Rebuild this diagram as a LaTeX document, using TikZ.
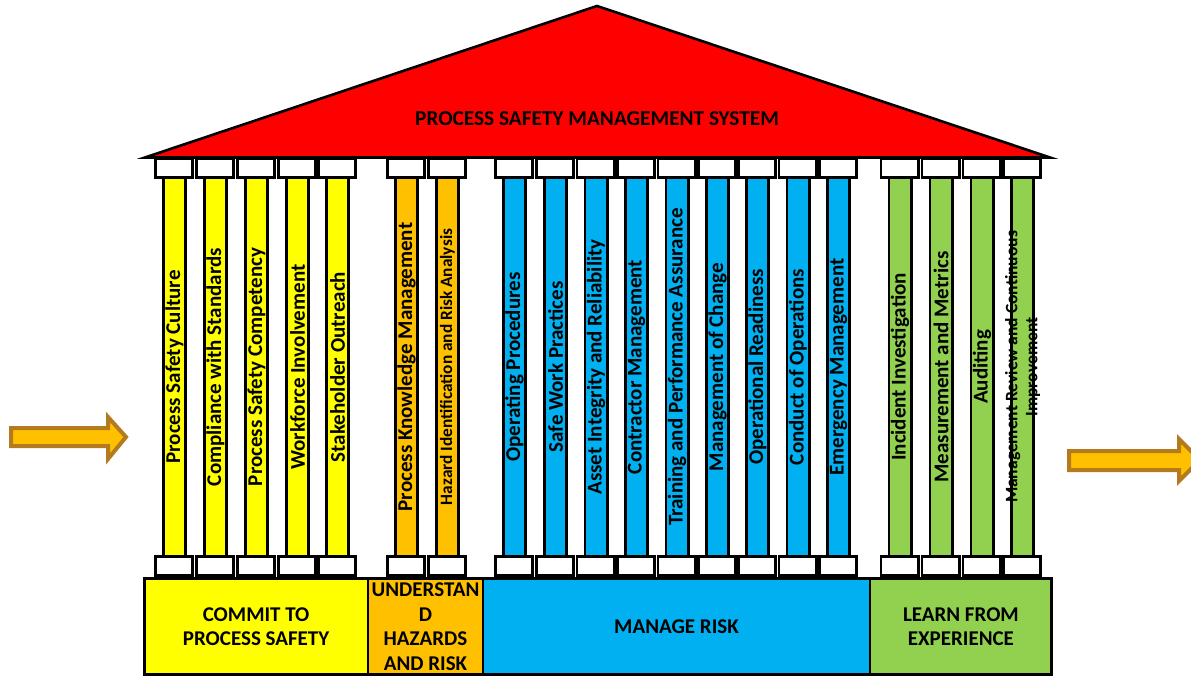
\documentclass[tikz,border=0pt]{standalone}
\usepackage{fontspec}
\setmainfont{Carlito}
\definecolor{roofred}{HTML}{FF0000}
\definecolor{commityellow}{HTML}{FFFF00}
\definecolor{hazardorange}{HTML}{FFC000}
\definecolor{riskblue}{HTML}{00B0F0}
\definecolor{learngreen}{HTML}{92D050}
\definecolor{arrowedge}{HTML}{B47A1E}
\tikzset{
  capbox/.style={draw, line width=2.6pt, fill=white, minimum width=37.4pt, minimum height=19.4pt, inner sep=0pt},
  shaft/.style={draw, line width=2.6pt, rotate=90, minimum width=380pt, minimum height=22.4pt, inner sep=0pt, font=\fontsize{21}{24}\selectfont\bfseries},
  basebox/.style={draw, line width=2.6pt, minimum height=96.4pt, inner sep=0pt, align=center, font=\fontsize{21}{24.5}\selectfont\bfseries},
  flowarrow/.style={fill=hazardorange, draw=arrowedge, line width=4pt}
}
\begin{document}
\begin{tikzpicture}[x=1pt,y=-1pt]
\useasboundingbox (0,0) rectangle (1191,676);
% roof
\filldraw[fill=roofred, line width=2.6pt] (145,157.5) -- (597,6) -- (1050,157.5) -- cycle;
\node[font=\fontsize{21.3}{24}\selectfont\bfseries] (title) at (597,119) {PROCESS SAFETY MANAGEMENT SYSTEM};
% shafts
\node[shaft, fill=commityellow] (p1) at (174.5,367) {Process Safety Culture};
\node[shaft, fill=commityellow] (p2) at (215.5,367) {Compliance with Standards};
\node[shaft, fill=commityellow] (p3) at (256.5,367) {Process Safety Competency};
\node[shaft, fill=commityellow] (p4) at (297.5,367) {Workforce Involvement};
\node[shaft, fill=commityellow] (p5) at (337.5,367) {Stakeholder Outreach};
\node[shaft, fill=hazardorange] (p6) at (406.5,367) {Process Knowledge Management};
\node[shaft, fill=hazardorange, font=\fontsize{17.3}{20}\selectfont\bfseries] (p7) at (447.5,367) {Hazard Identification and Risk Analysis};
\node[shaft, fill=riskblue] (p8) at (514.5,367) {Operating Procedures};
\node[shaft, fill=riskblue] (p9) at (555.5,367) {Safe Work Practices};
\node[shaft, fill=riskblue] (p10) at (596,367) {Asset Integrity and Reliability};
\node[shaft, fill=riskblue] (p11) at (636.5,367) {Contractor Management};
\node[shaft, fill=riskblue] (p12) at (677,367) {Training and Performance Assurance};
\node[shaft, fill=riskblue] (p13) at (717.5,367) {Management of Change};
\node[shaft, fill=riskblue] (p14) at (757.5,367) {Operational Readiness};
\node[shaft, fill=riskblue] (p15) at (798,367) {Conduct of Operations};
\node[shaft, fill=riskblue] (p16) at (838.5,367) {Emergency Management};
\node[shaft, fill=learngreen] (p17) at (900,367) {Incident Investigation};
\node[shaft, fill=learngreen] (p18) at (941,367) {Measurement and Metrics};
\node[shaft, fill=learngreen] (p19) at (982,367) {Auditing};
\node[shaft, fill=learngreen] (p20) at (1022.5,367) {};
\node[rotate=90, align=center, inner sep=0pt, font=\fontsize{17.5}{20}\selectfont\bfseries] (p20text) at (p20) {Management Review and Continuous\\Improvement};
% capitals and plinths
\foreach \x [count=\i] in {174.5,215.5,256.5,297.5,337.5,406.5,447.5,514.5,555.5,596,636.5,677,717.5,757.5,798,838.5,900,941,982,1022.5}{
  \node[capbox] (ct\i) at (\x-0.5,168) {};
  \node[capbox] (cb\i) at (\x-0.5,566) {};
}
% foundation
\node[basebox, fill=commityellow, minimum width=223.6pt] (commit) at (256.1,626.5) {COMMIT TO\\PROCESS SAFETY};
\node[basebox, fill=hazardorange, minimum width=115pt] (understand) at (425.5,626.5) {UNDERSTAN\\D\\HAZARDS\\AND RISK};
\node[basebox, fill=riskblue, minimum width=387pt] (manage) at (676.5,626.5) {MANAGE RISK};
\node[basebox, fill=learngreen, minimum width=181.6pt] (learn) at (960.9,626.5) {LEARN FROM\\EXPERIENCE};
% arrows
\filldraw[flowarrow] (11,428) -- (108,428) -- (108,417) -- (126,437) -- (108,459) -- (108,446) -- (11,446) -- cycle;
\filldraw[flowarrow] (1069,451) -- (1179,451) -- (1179,439) -- (1200,460) -- (1179,481) -- (1179,470) -- (1069,470) -- cycle;
\end{tikzpicture}
\end{document}
